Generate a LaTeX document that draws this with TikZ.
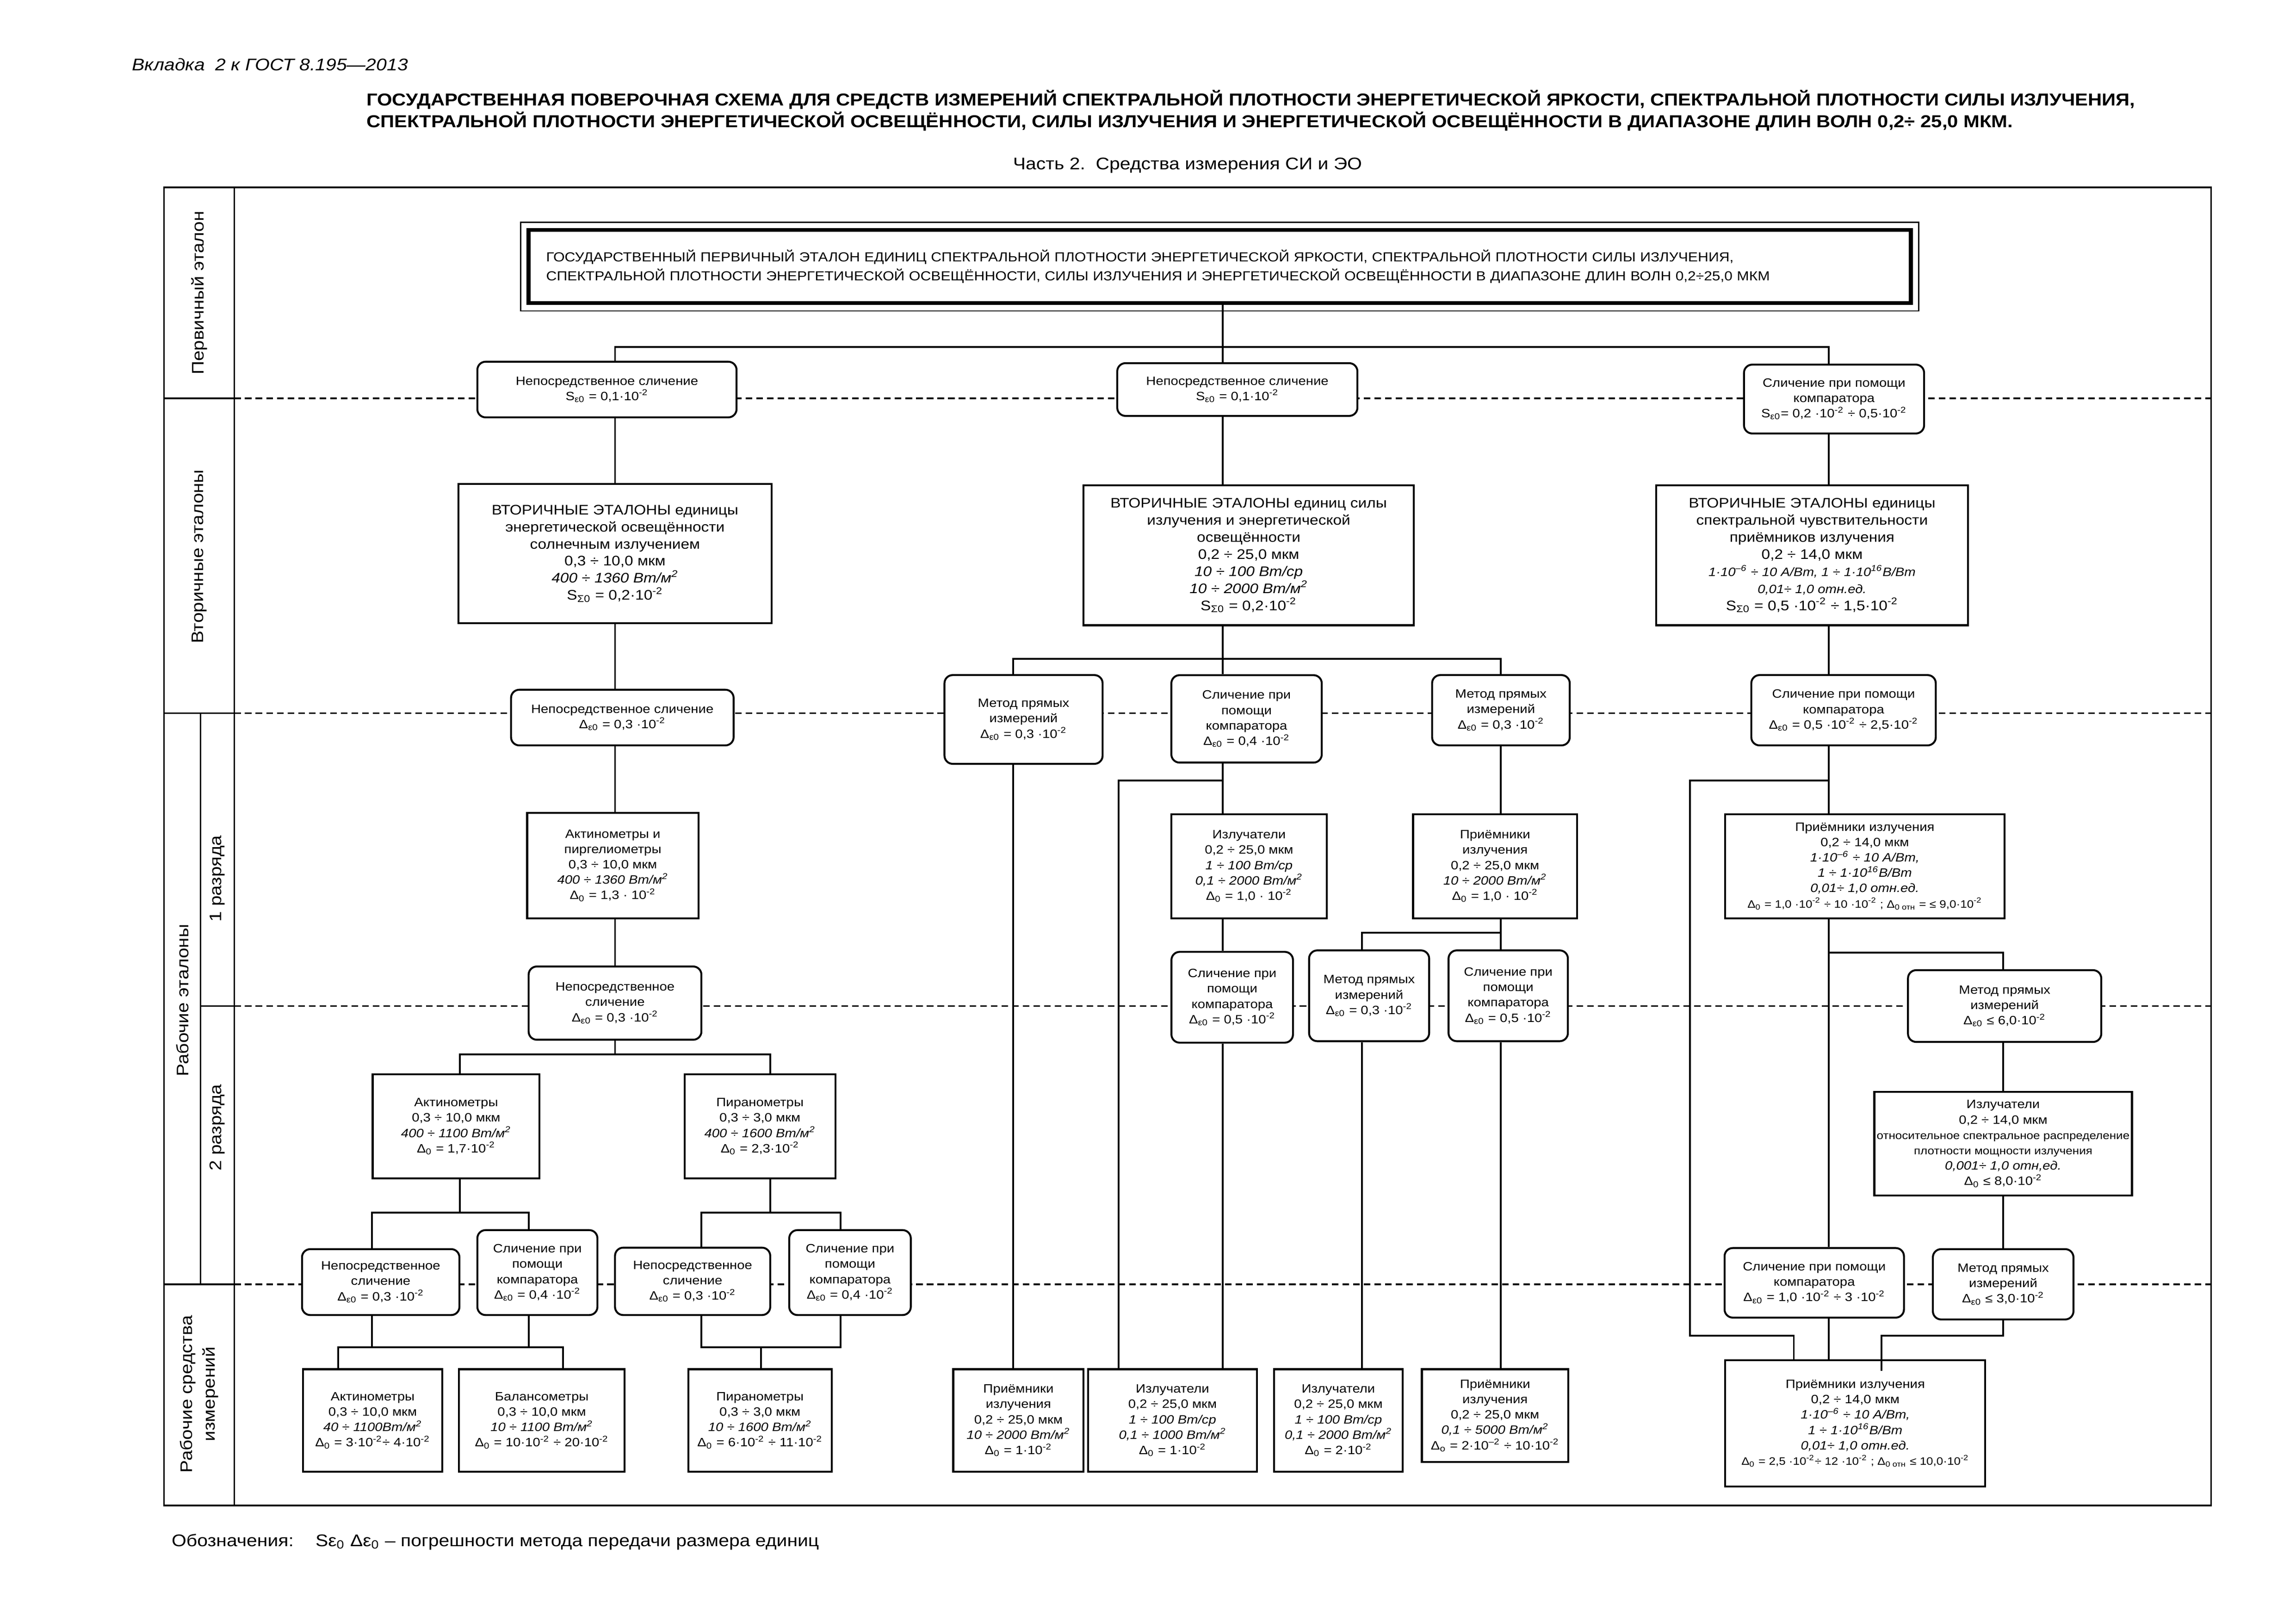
\documentclass[tikz,border=0pt]{standalone}
\usepackage{fontspec}
\setmainfont{Liberation Sans}[FakeStretch=1.12]
\usetikzlibrary{positioning,calc}

\newcommand{\pxu}{0.268mm}
\newcommand{\boxf}{\fontsize{6.3}{8}\selectfont}
\newcommand{\secf}{\fontsize{7.2}{8.9}\selectfont}
\newcommand{\primf}{\fontsize{6.82}{9.9}\selectfont}
\newcommand{\smallf}{\fontsize{5.6}{8}\selectfont}
\newcommand{\sidef}{\fontsize{8.7}{12}\selectfont}
\newcommand{\titf}{\fontsize{9.0}{11.4}\selectfont\bfseries}
\newcommand{\headf}{\fontsize{8.8}{10}\selectfont}
\newcommand{\pw}[1]{\textsuperscript{#1}}
\newcommand{\deps}{Δ\textsubscript{ε0}}
\newcommand{\dnul}{Δ\textsubscript{0}}
\newcommand{\seps}{S\textsubscript{ε0}}
\newcommand{\ssig}{S\textsubscript{Σ0}}

\tikzset{
  bx/.style 2 args={minimum width=#1*\pxu, minimum height=#2*\pxu},
  rbox/.style={draw, line width=1pt, fill=white, rounded corners=1.5mm, align=center, inner sep=1pt, font=\boxf},
  sbox/.style={draw, line width=1pt, fill=white, align=center, inner sep=1pt, font=\boxf},
  link/.style={line width=0.9pt},
  frame/.style={line width=0.8pt},
  level/.style={line width=0.8pt, dash pattern=on 1.2mm off 0.75mm},
  side/.style={rotate=90, font=\sidef, align=center}
}

\begin{document}
\begin{tikzpicture}[x=0.268mm, y=-0.268mm]
    \fill[white] (0,0) rectangle (1568,1108.3);
    \useasboundingbox (0,0) rectangle (1568,1108.3);

    % Header
    \node[anchor=west, font=\headf, inner sep=0pt] (tab) at (90,44) {\textit{Вкладка\ \ 2 к ГОСТ 8.195—2013}};
    \node[anchor=west, align=left, font=\titf, inner sep=0pt] (title) at (250,75.5) {ГОСУДАРСТВЕННАЯ ПОВЕРОЧНАЯ СХЕМА ДЛЯ СРЕДСТВ ИЗМЕРЕНИЙ СПЕКТРАЛЬНОЙ ПЛОТНОСТИ ЭНЕРГЕТИЧЕСКОЙ ЯРКОСТИ, СПЕКТРАЛЬНОЙ ПЛОТНОСТИ СИЛЫ ИЗЛУЧЕНИЯ,\\СПЕКТРАЛЬНОЙ ПЛОТНОСТИ ЭНЕРГЕТИЧЕСКОЙ ОСВЕЩЁННОСТИ, СИЛЫ ИЗЛУЧЕНИЯ И ЭНЕРГЕТИЧЕСКОЙ ОСВЕЩЁННОСТИ В ДИАПАЗОНЕ ДЛИН ВОЛН 0,2÷ 25,0 МКМ.};
    \node[font=\headf] (part) at (811,113) {Часть 2.\ \ Средства измерения СИ и ЭО};

    % Frame and levels
    \draw[frame] (112,128) rectangle (1510,1028);
    \draw[frame] (160,128) -- (160,1028);
    \draw[frame] (137,487) -- (137,877);
    \draw[frame] (112,272) -- (160,272);
    \draw[frame] (112,487) -- (160,487);
    \draw[frame] (137,687) -- (160,687);
    \draw[frame] (112,877) -- (160,877);
    \draw[level] (160,272) -- (1510,272);
    \draw[level] (160,487) -- (1510,487);
    \draw[level] (160,687) -- (1510,687);
    \draw[level] (160,877) -- (1510,877);

    \node[side] (lvlP) at (136,200) {Первичный эталон};
    \node[side] (lvlS) at (136,380) {Вторичные эталоны};
    \node[side] (lvlW) at (124.5,683) {Рабочие эталоны};
    \node[side] (lvl1) at (148.5,600) {1 разряда};
    \node[side] (lvl2) at (148.5,770) {2 разряда};
    \node[side] (lvlM) at (136,952) {Рабочие средства\\измерений};

    % Primary standard
    \node[draw, line width=2pt, fill=white, bx={944}{50}, text width=920*\pxu, align=left, font=\primf, inner sep=0pt] (prim) at (833,182) {ГОСУДАРСТВЕННЫЙ ПЕРВИЧНЫЙ ЭТАЛОН ЕДИНИЦ СПЕКТРАЛЬНОЙ ПЛОТНОСТИ ЭНЕРГЕТИЧЕСКОЙ ЯРКОСТИ, СПЕКТРАЛЬНОЙ ПЛОТНОСТИ СИЛЫ ИЗЛУЧЕНИЯ,\\СПЕКТРАЛЬНОЙ ПЛОТНОСТИ ЭНЕРГЕТИЧЕСКОЙ ОСВЕЩЁННОСТИ, СИЛЫ ИЗЛУЧЕНИЯ И ЭНЕРГЕТИЧЕСКОЙ ОСВЕЩЁННОСТИ В ДИАПАЗОНЕ ДЛИН ВОЛН 0,2÷25,0 МКМ};
    \draw[line width=0.7pt] ([shift={(-4,-4)}]prim.north west) rectangle ([shift={(4,4)}]prim.south east);

    % Comparisons to secondary standards
    \node[rbox, bx={177}{38}] (cmpA) at (414.5,266) {Непосредственное сличение\\\seps{} = 0,1·10\pw{-2}};
    \node[rbox, bx={164}{36}] (cmpB) at (845,266) {Непосредственное сличение\\\seps{} = 0,1·10\pw{-2}};
    \node[rbox, bx={123}{47}] (cmpC) at (1252.5,272.5) {Сличение при помощи\\компаратора\\\seps{}= 0,2 ·10\pw{-2} ÷ 0,5·10\pw{-2}};

    % Secondary standards
    \node[sbox, bx={214}{95}, font=\secf] (secA) at (420,378) {ВТОРИЧНЫЕ ЭТАЛОНЫ единицы\\энергетической освещённости\\солнечным излучением\\0,3 ÷ 10,0 мкм\\\textit{400 ÷ 1360 Вт/м\pw{2}}\\\ssig{} = 0,2·10\pw{-2}};
    \node[sbox, bx={225.5}{95.5}, font=\secf] (secB) at (852.75,379.25) {ВТОРИЧНЫЕ ЭТАЛОНЫ единиц силы\\излучения и энергетической\\освещённости\\0,2 ÷ 25,0 мкм\\\textit{10 ÷ 100 Вт/ср}\\\textit{10 ÷ 2000 Вт/м\pw{2}}\\\ssig{} = 0,2·10\pw{-2}};
    \node[sbox, bx={213}{95.5}, font=\secf] (secC) at (1237.5,379.25) {ВТОРИЧНЫЕ ЭТАЛОНЫ единицы\\спектральной чувствительности\\приёмников излучения\\0,2 ÷ 14,0 мкм\\{\boxf\textit{1·10\pw{–6} ÷ 10 А/Вт, 1 ÷ 1·10\pw{16}В/Вт}}\\{\boxf\textit{0,01÷ 1,0 отн.ед.}}\\\ssig{} = 0,5 ·10\pw{-2} ÷ 1,5·10\pw{-2}};

    % Methods to working standards
    \node[rbox, bx={152}{38}] (cmpE) at (425,490) {Непосредственное сличение\\\deps{} = 0,3 ·10\pw{-2}};
    \node[rbox, bx={108}{60.6}] (metA) at (699,491.3) {Метод прямых\\измерений\\\deps{} = 0,3 ·10\pw{-2}};
    \node[rbox, bx={102.7}{59.7}] (cmpF) at (851.3,490.9) {Сличение при\\помощи\\компаратора\\\deps{} = 0,4 ·10\pw{-2}};
    \node[rbox, bx={94}{48}] (metB) at (1025,485) {Метод прямых\\измерений\\\deps{} = 0,3 ·10\pw{-2}};
    \node[rbox, bx={126}{48}] (cmpG) at (1259,485) {Сличение при помощи\\компаратора\\\deps{} = 0,5 ·10\pw{-2} ÷ 2,5·10\pw{-2}};

    % Working standards, 1st grade
    \node[sbox, bx={117}{72}] (act1) at (418.5,591) {Актинометры и\\пиргелиометры\\0,3 ÷ 10,0 мкм\\\textit{400 ÷ 1360 Вт/м\pw{2}}\\\dnul{} = 1,3 · 10\pw{-2}};
    \node[sbox, bx={106}{71}] (izl1) at (853,591.5) {Излучатели\\0,2 ÷ 25,0 мкм\\\textit{1 ÷ 100 Вт/ср}\\\textit{0,1 ÷ 2000 Вт/м\pw{2}}\\\dnul{} = 1,0 · 10\pw{-2}};
    \node[sbox, bx={112}{71}] (prm1) at (1021,591.5) {Приёмники\\излучения\\0,2 ÷ 25,0 мкм\\\textit{10 ÷ 2000 Вт/м\pw{2}}\\\dnul{} = 1,0 · 10\pw{-2}};
    \node[sbox, bx={191}{71}] (prm2) at (1273.5,591.5) {Приёмники излучения\\0,2 ÷ 14,0 мкм\\\textit{1·10\pw{–6} ÷ 10 А/Вт,}\\\textit{1 ÷ 1·10\pw{16}В/Вт}\\\textit{0,01÷ 1,0 отн.ед.}\\{\smallf\dnul{} = 1,0 ·10\pw{-2} ÷ 10 ·10\pw{-2} ; Δ\textsubscript{0 отн} = ≤ 9,0·10\pw{-2}}};

    % Methods to 2nd grade
    \node[rbox, bx={118}{50}] (cmpH) at (420,685) {Непосредственное\\сличение\\\deps{} = 0,3 ·10\pw{-2}};
    \node[rbox, bx={83}{62}] (cmpI) at (841.5,681) {Сличение при\\помощи\\компаратора\\\deps{} = 0,5 ·10\pw{-2}};
    \node[rbox, bx={82}{62}] (metC) at (935,680) {Метод прямых\\измерений\\\deps{} = 0,3 ·10\pw{-2}};
    \node[rbox, bx={81.5}{62}] (cmpJ) at (1030,680) {Сличение при\\помощи\\компаратора\\\deps{} = 0,5 ·10\pw{-2}};
    \node[rbox, bx={132}{49}] (metD) at (1369,687) {Метод прямых\\измерений\\\deps{} ≤ 6,0·10\pw{-2}};

    % Working standards, 2nd grade
    \node[sbox, bx={114}{71}] (act2) at (311.5,769.2) {Актинометры\\0,3 ÷ 10,0 мкм\\\textit{400 ÷ 1100 Вт/м\pw{2}}\\\dnul{} = 1,7·10\pw{-2}};
    \node[sbox, bx={103}{71}] (pir2) at (519,769.2) {Пиранометры\\0,3 ÷ 3,0 мкм\\\textit{400 ÷ 1600 Вт/м\pw{2}}\\\dnul{} = 2,3·10\pw{-2}};
    \node[sbox, bx={176}{71}] (izlR) at (1368,781) {Излучатели\\0,2 ÷ 14,0 мкм\\{\smallf относительное спектральное распределение}\\{\smallf плотности мощности излучения}\\\textit{0,001÷ 1,0 отн,ед.}\\\dnul{} ≤ 8,0·10\pw{-2}};

    % Methods to working instruments
    \node[rbox, bx={107.5}{45}] (cmpL) at (260,875.5) {Непосредственное\\сличение\\\deps{} = 0,3 ·10\pw{-2}};
    \node[rbox, bx={82}{58}] (cmpM) at (367,869) {Сличение при\\помощи\\компаратора\\\deps{} = 0,4 ·10\pw{-2}};
    \node[rbox, bx={106}{46}] (cmpN) at (473,875) {Непосредственное\\сличение\\\deps{} = 0,3 ·10\pw{-2}};
    \node[rbox, bx={83}{58}] (cmpO) at (580.5,869) {Сличение при\\помощи\\компаратора\\\deps{} = 0,4 ·10\pw{-2}};
    \node[rbox, bx={122.5}{47.5}] (cmpK) at (1239,876) {Сличение при помощи\\компаратора\\\deps{} = 1,0 ·10\pw{-2} ÷ 3 ·10\pw{-2}};
    \node[rbox, bx={96}{48}] (metE) at (1368,877) {Метод прямых\\измерений\\\deps{} ≤ 3,0·10\pw{-2}};

    % Working instruments
    \node[sbox, bx={95}{70}] (actB) at (254.5,970) {Актинометры\\0,3 ÷ 10,0 мкм\\\textit{40 ÷ 1100Вт/м\pw{2}}\\\dnul{} = 3·10\pw{-2}÷ 4·10\pw{-2}};
    \node[sbox, bx={113}{70}] (bal) at (370,970) {Балансометры\\0,3 ÷ 10,0 мкм\\\textit{10 ÷ 1100 Вт/м\pw{2}}\\\dnul{} = 10·10\pw{-2} ÷ 20·10\pw{-2}};
    \node[sbox, bx={98}{70}] (pirB) at (519,970) {Пиранометры\\0,3 ÷ 3,0 мкм\\\textit{10 ÷ 1600 Вт/м\pw{2}}\\\dnul{} = 6·10\pw{-2} ÷ 11·10\pw{-2}};
    \node[sbox, bx={89}{70}] (prm3) at (695.5,970) {Приёмники\\излучения\\0,2 ÷ 25,0 мкм\\\textit{10 ÷ 2000 Вт/м\pw{2}}\\\dnul{} = 1·10\pw{-2}};
    \node[sbox, bx={115.5}{70}] (izl2) at (800.75,970) {Излучатели\\0,2 ÷ 25,0 мкм\\\textit{1 ÷ 100 Вт/ср}\\\textit{0,1 ÷ 1000 Вт/м\pw{2}}\\\dnul{} = 1·10\pw{-2}};
    \node[sbox, bx={88}{70}] (izl3) at (914,970) {Излучатели\\0,2 ÷ 25,0 мкм\\\textit{1 ÷ 100 Вт/ср}\\\textit{0,1 ÷ 2000 Вт/м\pw{2}}\\\dnul{} = 2·10\pw{-2}};
    \node[sbox, bx={100}{63.4}] (prm5) at (1021,966.7) {Приёмники\\излучения\\0,2 ÷ 25,0 мкм\\\textit{0,1 ÷ 5000 Вт/м\pw{2}}\\Δ\textsubscript{о} = 2·10\pw{–2} ÷ 10·10\pw{-2}};
    \node[sbox, bx={177.5}{86.4}] (prm4) at (1267,972) {Приёмники излучения\\0,2 ÷ 14,0 мкм\\\textit{1·10\pw{–6} ÷ 10 А/Вт,}\\\textit{1 ÷ 1·10\pw{16}В/Вт}\\\textit{0,01÷ 1,0 отн.ед.}\\{\smallf\dnul{} = 2,5 ·10\pw{-2}÷ 12 ·10\pw{-2} ; Δ\textsubscript{0 отн} ≤ 10,0·10\pw{-2}}};

    % Legend
    \node[anchor=west, font=\headf, inner sep=0pt] (legend) at (117,1053) {Обозначения:\hspace{4mm}Sε\textsubscript{0} Δε\textsubscript{0} – погрешности метода передачи размера единиц};

    % Line columns and buses
    \coordinate (xA) at (420,0);
    \coordinate (xB) at (835,0);
    \coordinate (xC) at (1249,0);
    \coordinate (xM) at (692,0);
    \coordinate (xL) at (764,0);
    \coordinate (xD) at (930,0);
    \coordinate (xR) at (1025,0);
    \coordinate (xE) at (1154,0);
    \coordinate (xF) at (1225,0);
    \coordinate (xH) at (1285,0);
    \coordinate (xG) at (1368,0);
    \coordinate (xa2) at (314,0);
    \coordinate (xp2) at (526,0);
    \coordinate (xl) at (254,0);
    \coordinate (xm) at (361,0);
    \coordinate (xn) at (479,0);
    \coordinate (xo) at (574,0);
    \coordinate (xab) at (231,0);
    \coordinate (xbl) at (384.5,0);
    \coordinate (xpb) at (519.7,0);
    \coordinate (busP) at (0,237);
    \coordinate (busB) at (0,450);
    \coordinate (busF) at (0,533);
    \coordinate (busJ) at (0,637);
    \coordinate (busK) at (0,650.5);
    \coordinate (busH) at (0,720);
    \coordinate (busL) at (0,828);
    \coordinate (busN) at (0,912);
    \coordinate (busM) at (0,920);
    \coordinate (busQ) at (0,936);

    % Connectors
    \draw[link] (prim.south -| xB) -- (cmpB.north -| xB);
    \draw[link] (cmpA.north -| xA) -- (xA |- busP) -- (xC |- busP) -- (cmpC.north -| xC);
    \draw[link] (cmpA.south -| xA) -- (secA.north -| xA);
    \draw[link] (cmpB.south -| xB) -- (secB.north -| xB);
    \draw[link] (cmpC.south -| xC) -- (secC.north -| xC);
    \draw[link] (secA.south -| xA) -- (cmpE.north -| xA);
    \draw[link] (secB.south -| xB) -- (cmpF.north -| xB);
    \draw[link] (metA.north -| xM) -- (xM |- busB) -- (xR |- busB) -- (metB.north -| xR);
    \draw[link] (secC.south -| xC) -- (cmpG.north -| xC);
    \draw[link] (cmpE.south -| xA) -- (act1.north -| xA);
    \draw[link] (metA.south -| xM) -- (prm3.north -| xM);
    \draw[link] (cmpF.south -| xB) -- (izl1.north -| xB);
    \draw[link] (xB |- busF) -- (xL |- busF) -- (izl2.north -| xL);
    \draw[link] (metB.south -| xR) -- (prm1.north -| xR);
    \draw[link] (cmpG.south -| xC) -- (prm2.north -| xC);
    \draw[link] (xC |- busF) -- (xE |- busF) -- (xE |- busN) -- (xF |- busN) -- (prm4.north -| xF);
    \draw[link] (act1.south -| xA) -- (cmpH.north -| xA);
    \draw[link] (izl1.south -| xB) -- (cmpI.north -| xB);
    \draw[link] (prm1.south -| xR) -- (cmpJ.north -| xR);
    \draw[link] (xR |- busJ) -- (xD |- busJ) -- (metC.north -| xD);
    \draw[link] (prm2.south -| xC) -- (cmpK.north -| xC);
    \draw[link] (xC |- busK) -- (xG |- busK) -- (metD.north -| xG);
    \draw[link] (cmpH.south -| xA) -- (xA |- busH);
    \draw[link] (act2.north -| xa2) -- (xa2 |- busH) -- (xp2 |- busH) -- (pir2.north -| xp2);
    \draw[link] (cmpI.south -| xB) -- (izl2.north -| xB);
    \draw[link] (metC.south -| xD) -- (izl3.north -| xD);
    \draw[link] (cmpJ.south -| xR) -- (prm5.north -| xR);
    \draw[link] (metD.south -| xG) -- (izlR.north -| xG);
    \draw[link] (izlR.south -| xG) -- (metE.north -| xG);
    \draw[link] (metE.south -| xG) -- (xG |- busN) -- (xH |- busN) -- (xH |- busQ);
    \draw[link] (cmpK.south -| xC) -- (prm4.north -| xC);
    \draw[link] (act2.south -| xa2) -- (xa2 |- busL);
    \draw[link] (cmpL.north -| xl) -- (xl |- busL) -- (xm |- busL) -- (cmpM.north -| xm);
    \draw[link] (pir2.south -| xp2) -- (xp2 |- busL);
    \draw[link] (cmpN.north -| xn) -- (xn |- busL) -- (xo |- busL) -- (cmpO.north -| xo);
    \draw[link] (cmpL.south -| xl) -- (xl |- busM);
    \draw[link] (cmpM.south -| xm) -- (xm |- busM);
    \draw[link] (actB.north -| xab) -- (xab |- busM) -- (xbl |- busM) -- (bal.north -| xbl);
    \draw[link] (cmpN.south -| xn) -- (xn |- busM) -- (xo |- busM) -- (cmpO.south -| xo);
    \draw[link] (xpb |- busM) -- (pirB.north -| xpb);
\end{tikzpicture}
\end{document}
